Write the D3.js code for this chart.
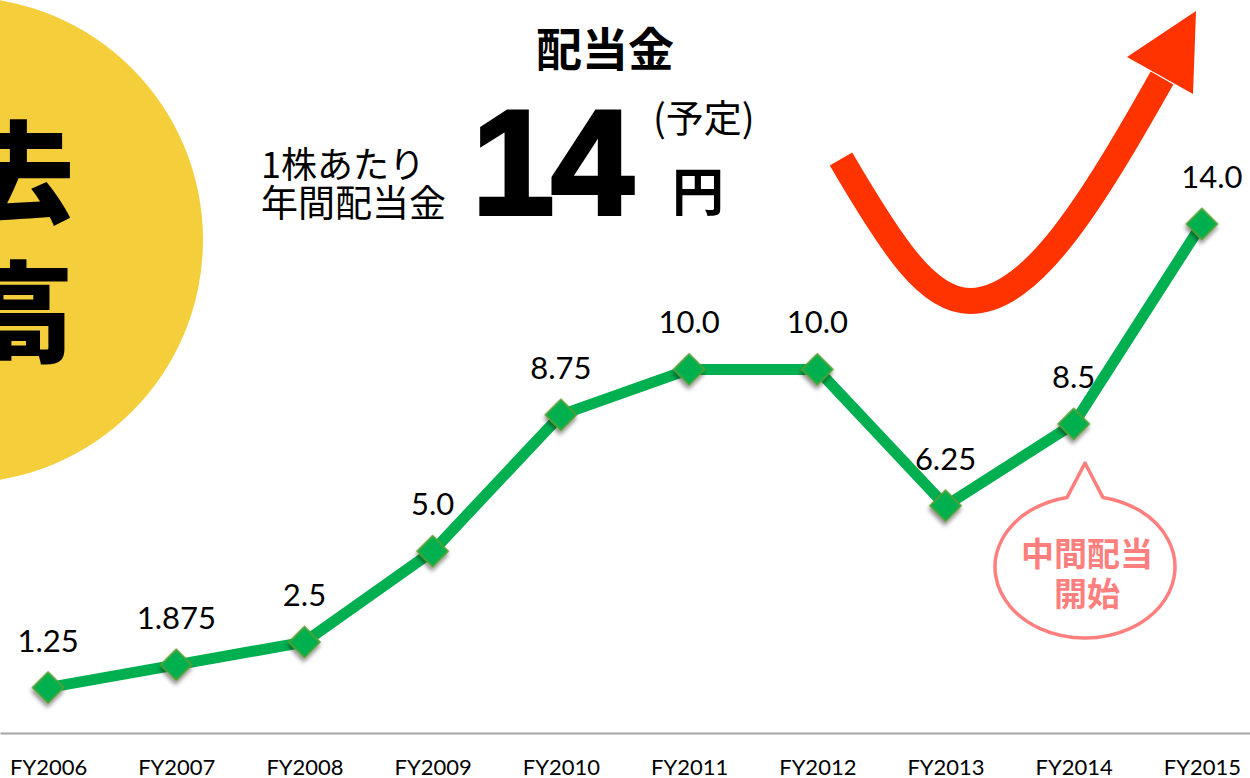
<!DOCTYPE html>
<html><head><meta charset="utf-8">
<script src="https://cdn.jsdelivr.net/npm/d3@7"></script>
<style>
html,body{margin:0;padding:0;background:#fff;overflow:hidden;}
svg{display:block;}
</style></head>
<body>
<svg id="chart" width="1250" height="778"></svg>
<script>
const categories = ["FY2006","FY2007","FY2008","FY2009","FY2010","FY2011","FY2012","FY2013","FY2014","FY2015"];
const dividends = [1.25, 1.875, 2.5, 5.0, 8.75, 10.0, 10.0, 6.25, 8.5, 14.0];
const valueLabels = ["1.25","1.875","2.5","5.0","8.75","10.0","10.0","6.25","8.5","14.0"];

const W = 1250, H = 778;
const svg = d3.select("#chart");

const defs = svg.append("defs");
const f = defs.append("filter").attr("id","shadow").attr("x","-50%").attr("y","-50%").attr("width","200%").attr("height","200%");
f.append("feDropShadow").attr("dx",2).attr("dy",3).attr("stdDeviation",2).attr("flood-color","#000").attr("flood-opacity",0.45);

// Yellow circle decoration
svg.append("circle").attr("cx",-40).attr("cy",240).attr("r",243).attr("fill","#F5CE3C");
const circleText = svg.append("g").attr("font-family","'Noto Sans CJK JP'").attr("font-weight",900)
  .attr("font-size",110).attr("fill","#000").attr("text-anchor","end");
circleText.append("text").attr("x",74).attr("y",214).text("過去");
circleText.append("text").attr("x",74).attr("y",354).text("最高");

// Scales
const x = d3.scalePoint().domain(categories).range([0, W]).padding(0.375);
const y = d3.scaleLinear().domain([0, 14]).range([733, 224]);

// Axis
const axis = svg.append("g").attr("transform","translate(0,733)")
  .call(d3.axisBottom(x).tickSize(0).tickSizeOuter(0));
axis.select(".domain").attr("stroke","#A6A6A6").attr("stroke-width",2);
axis.selectAll(".tick text").attr("y",42).attr("dy",0)
  .attr("font-family","Lato").attr("font-size",22).attr("fill","#000");

// Titles
const tfont = "'Noto Sans CJK JP'";
svg.append("text").attr("x",605).attr("y",66).attr("text-anchor","middle")
  .attr("font-family",tfont).attr("font-weight",700).attr("font-size",46).text("配当金");
svg.append("text").attr("x",261).attr("y",178).attr("font-family",tfont).attr("font-size",36).text("1株あたり");
svg.append("text").attr("x",261).attr("y",217).attr("font-family",tfont).attr("font-size",37).text("年間配当金");
svg.append("text").attr("x",472).attr("y",214).attr("font-family","'Liberation Sans'").attr("font-weight",700)
  .attr("font-size",148).attr("letter-spacing",-3).attr("stroke","#000").attr("stroke-width",4).text("14");
svg.append("text").attr("x",653).attr("y",132).attr("font-family",tfont).attr("font-size",38).text("(予定)");
svg.append("text").attr("x",672).attr("y",211).attr("font-family",tfont).attr("font-weight",700).attr("font-size",52).text("円");

// Red arrow decoration
svg.append("path").attr("d","M841,159 C893,248 928,301 970,301 C1032,301 1092,202 1162,78")
  .attr("fill","none").attr("stroke","#FF3300").attr("stroke-width",26);
svg.append("path").attr("d","M1196,11 L1127,57 L1193,94 Z").attr("fill","#FF3300");

// Line
const line = d3.line().x((d,i)=>x(categories[i])).y(d=>y(d));
svg.append("path").datum(dividends).attr("d",line).attr("fill","none")
  .attr("stroke","#00B050").attr("stroke-width",11).attr("stroke-linejoin","miter");

// Markers
svg.selectAll(".mk").data(dividends).join("rect").attr("class","mk")
  .attr("x",-11).attr("y",-11).attr("width",22).attr("height",22)
  .attr("transform",(d,i)=>`translate(${x(categories[i])},${y(d)}) rotate(45)`)
  .attr("fill","#00B050").attr("stroke","#5A9E32").attr("stroke-width",1.5)
  .attr("filter","url(#shadow)");

// Value labels
svg.selectAll(".lbl").data(dividends).join("text").attr("class","lbl")
  .attr("x",(d,i)=>x(categories[i]) + (i===dividends.length-1 ? 10 : 0))
  .attr("y",d=>y(d)-36).attr("text-anchor","middle")
  .attr("font-family","Lato").attr("font-size",31).attr("fill","#000")
  .text((d,i)=>valueLabels[i]);

// Speech bubble
const bx = 1085, by = 567, rx = 90, ry = 71;
const tipX = 1085, tipY = 463;
const a1 = Math.PI*1.5 - 0.2, a2 = Math.PI*1.5 + 0.2;
const p1 = [bx + rx*Math.cos(a1), by + ry*Math.sin(a1)];
const p2 = [bx + rx*Math.cos(a2), by + ry*Math.sin(a2)];
const bubble = `M${p2[0]},${p2[1]} A${rx},${ry} 0 1 1 ${p1[0]},${p1[1]} L${tipX},${tipY} Z`;
svg.append("path").attr("d",bubble).attr("fill","#fff").attr("stroke","#FF7F7F").attr("stroke-width",3.5).attr("stroke-linejoin","round");
const bt = svg.append("g").attr("font-family",tfont).attr("font-weight",700).attr("font-size",33)
  .attr("fill","#FF7F7F").attr("text-anchor","middle");
bt.append("text").attr("x",1087).attr("y",566).text("中間配当");
bt.append("text").attr("x",1087).attr("y",606).text("開始");
</script>
</body></html>
